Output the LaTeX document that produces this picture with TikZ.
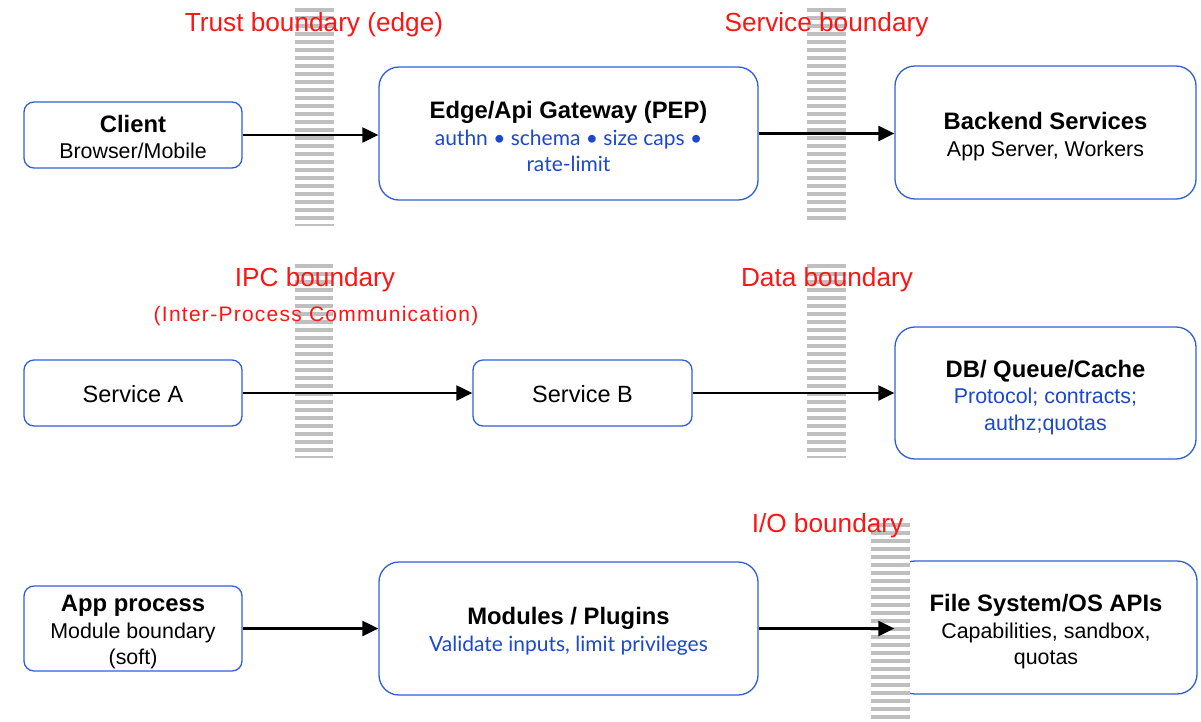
\documentclass[tikz,border=0pt]{standalone}
\usepackage{fontspec}
\setmainfont{Liberation Sans}
\newfontfamily\notefamily{Lato}
\newfontfamily\spacedfamily[LetterSpace=6]{Liberation Sans}
\usetikzlibrary{arrows.meta}

\definecolor{boxblue}{RGB}{47,95,214}
\definecolor{noteblue}{RGB}{28,72,205}
\definecolor{zonered}{RGB}{255,20,20}
\definecolor{stripegray}{RGB}{191,191,191}

\newcommand\boxtitle[1]{{\fontsize{23.8}{26.5}\selectfont\bfseries #1}}
\newcommand\bluenote[1]{{\notefamily\fontsize{21}{25}\selectfont\color{noteblue}#1}}
\newcommand\bluearial[1]{{\color{noteblue}#1}}

% striped boundary bar: left, top, right, bottom
\newcommand\zonebar[4]{%
  \begin{scope}
    \clip (#1,#2) rectangle (#3,#4);
    \fill[white] (#1,#2) rectangle (#3,#4);
    \foreach \k in {0,...,30}
      \fill[stripegray] (#1,{#2+8*\k}) rectangle (#3,{#2+8*\k+4});
  \end{scope}}

\begin{document}
\begin{tikzpicture}[x=1pt,y=-1pt,
  box/.style={draw=boxblue, line width=1.3pt, fill=white, inner sep=0pt},
  smallbox/.style={box, rounded corners=10pt, minimum width=218pt, minimum height=66pt},
  bigbox/.style={box, rounded corners=20pt, minimum height=133pt},
  boxtext/.style={align=center, inner sep=0pt, font=\fontsize{21.4}{26.5}\selectfont},
  flow/.style={draw=black, line width=2.2pt, -{Triangle[length=16pt,width=15pt]}},
  zone/.style={text=zonered, font=\fontsize{26.2}{30}\selectfont, inner sep=0pt}
]
\useasboundingbox (0,0) rectangle (1201,721);

% ---- row 1: edge ----
\node[smallbox] (client) at (133,135) {};
\node[boxtext] (clientT) at ([yshift=-2pt]client.center)
  {\boxtitle{Client}\\Browser/Mobile};
\node[bigbox, minimum width=379pt] (gateway) at (568.5,133.5) {};
\node[boxtext] (gatewayT) at ([yshift=-3pt]gateway.center)
  {\boxtitle{Edge/Api Gateway (PEP)}\\\bluenote{authn • schema • size caps •}\\\bluenote{rate-limit}};
\node[bigbox, minimum width=301pt] (backend) at (1045.5,132.5) {};
\node[boxtext] (backendT) at ([yshift=-4pt]backend.center)
  {\boxtitle{Backend Services}\\App Server, Workers};

% ---- row 2: inter-process ----
\node[smallbox] (svca) at (133,393) {};
\node[boxtext, font=\fontsize{23.5}{26.5}\selectfont] (svcaT) at ([yshift=-1pt]svca.center) {Service A};
\node[smallbox, minimum width=219pt] (svcb) at (582.5,393) {};
\node[boxtext, font=\fontsize{23.5}{26.5}\selectfont] (svcbT) at ([yshift=-1pt]svcb.center) {Service B};
\node[bigbox, minimum width=301pt, minimum height=132pt] (store) at (1045.5,393) {};
\node[boxtext] (storeT) at ([yshift=-4.5pt]store.center)
  {\boxtitle{DB/ Queue/Cache}\\\bluearial{Protocol; contracts;}\\\bluearial{authz;quotas}};

% ---- row 3: in-process ----
\node[smallbox, minimum height=85pt] (app) at (133,628.5) {};
\node[boxtext] (appT) at ([yshift=-4pt]app.center)
  {\boxtitle{App process}\\Module boundary\\(soft)};
\node[bigbox, minimum width=379pt] (modules) at (568.5,628.5) {};
\node[boxtext] (modulesT) at ([yshift=-3pt]modules.center)
  {\boxtitle{Modules / Plugins}\\\bluenote{Validate inputs, limit privileges}};
\node[bigbox, minimum width=302pt] (fsapi) at (1046,627.5) {};
\node[boxtext] (fsapiT) at ([yshift=-4.5pt]fsapi.center)
  {\boxtitle{File System/OS APIs}\\Capabilities, sandbox,\\quotas};

% ---- boundary bars ----
\zonebar{295}{8}{334}{225}
\zonebar{807}{8}{846}{220}
\zonebar{295}{264}{333}{457}
\zonebar{807}{264}{846}{457}
\zonebar{871}{523}{910}{721}

% ---- connectors ----
\draw[flow] (client.east) -- (client.east -| gateway.west);
\draw[flow] (gateway.east) -- (gateway.east -| backend.west);
\draw[flow] (svca.east) -- (svca.east -| svcb.west);
\draw[flow] (svcb.east) -- (svcb.east -| store.west);
\draw[flow] (app.east) -- (app.east -| modules.west);
\draw[flow] (modules.east) -- (modules.east -| fsapi.west);

% ---- boundary labels ----
\node[zone] (ltrust) at (314,25) {Trust boundary (edge)};
\node[zone] (lservice) at (826.5,25) {Service boundary};
\node[zone] (lipc) at (315,280) {IPC boundary};
\node[zone, font=\spacedfamily\fontsize{21}{24}\selectfont] (lipcsub) at (316,316.5) {(Inter-Process Communication)};
\node[zone] (ldata) at (827,280) {Data boundary};
\node[zone] (lio) at (827.5,525.5) {I/O boundary};
\end{tikzpicture}
\end{document}
